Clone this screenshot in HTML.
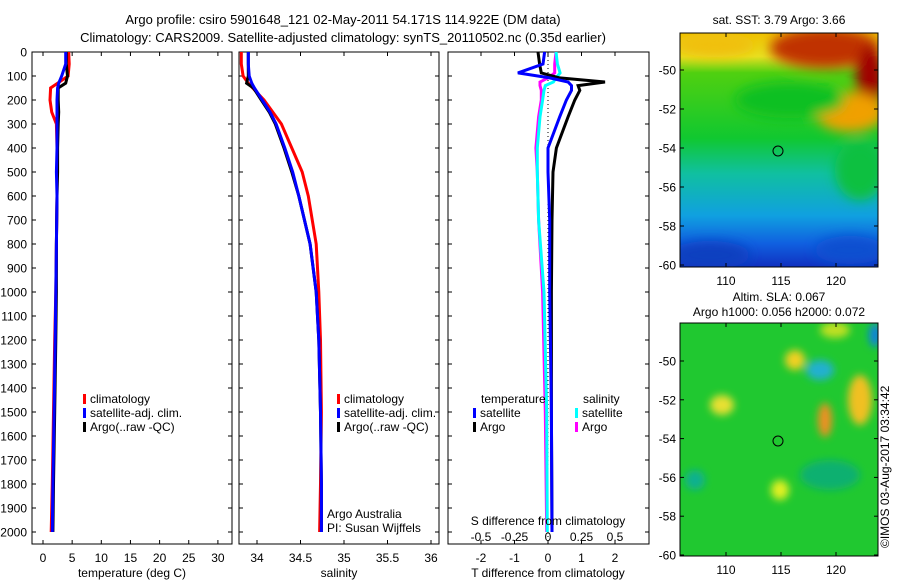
<!DOCTYPE html>
<html><head><meta charset="utf-8"><style>
html,body{margin:0;padding:0;background:#fff;}
svg{display:block;font-family:"Liberation Sans",sans-serif;}
text{font-size:12px;fill:#000;}
</style></head><body>
<svg id="chart" width="900" height="580" viewBox="0 0 900 580" xmlns="http://www.w3.org/2000/svg">
<defs>
<clipPath id="c1"><rect x="680" y="33" width="198" height="234"/></clipPath>
<clipPath id="c2"><rect x="680" y="323" width="198" height="233"/></clipPath>
<filter id="bl" x="-50%" y="-50%" width="200%" height="200%"><feGaussianBlur stdDeviation="6"/></filter>
<filter id="bl2" x="-50%" y="-50%" width="200%" height="200%"><feGaussianBlur stdDeviation="4"/></filter>
<linearGradient id="sstg" x1="0" y1="0" x2="0" y2="1">
<stop offset="0" stop-color="#f0c000"/><stop offset="0.1" stop-color="#e8e020"/><stop offset="0.17" stop-color="#50d010"/>
<stop offset="0.45" stop-color="#10c830"/><stop offset="0.6" stop-color="#10c0a0"/><stop offset="0.78" stop-color="#10a0e0"/>
<stop offset="0.9" stop-color="#1060e0"/><stop offset="1" stop-color="#1030c0"/></linearGradient>
</defs>
<text x="343" y="24" text-anchor="middle" style="font-size:13px">Argo profile: csiro 5901648_121 02-May-2011 54.171S 114.922E (DM data)</text>
<text x="343" y="42" text-anchor="middle" style="font-size:13px">Climatology: CARS2009. Satellite-adjusted climatology: synTS_20110502.nc (0.35d earlier)</text>
<g id="p1"></g>
<g id="p2"></g>
<g id="p3"></g>

<g>
<text x="779" y="24" text-anchor="middle">sat. SST: 3.79 Argo: 3.66</text>
<g clip-path="url(#c1)">
<rect x="680" y="33" width="198" height="234" fill="url(#sstg)"/>
<g filter="url(#bl)">
<ellipse cx="825" cy="48" rx="55" ry="20" fill="#c03000"/>
<ellipse cx="870" cy="80" rx="14" ry="35" fill="#a00000"/>
<ellipse cx="850" cy="112" rx="35" ry="20" fill="#f0a000"/>
<ellipse cx="715" cy="45" rx="40" ry="12" fill="#f0c010"/>
<ellipse cx="790" cy="100" rx="55" ry="18" fill="#10c020"/>
<ellipse cx="860" cy="170" rx="25" ry="30" fill="#10c040"/>
<ellipse cx="710" cy="255" rx="40" ry="14" fill="#1040c0"/>
<ellipse cx="850" cy="250" rx="35" ry="14" fill="#1050d0"/>
</g></g>
<rect x="680" y="33" width="198" height="234" fill="none" stroke="#000"/>
<circle cx="778" cy="151" r="5" fill="none" stroke="#000"/>
</g>
<g>
<text x="779" y="301" text-anchor="middle">Altim. SLA: 0.067</text>
<text x="779" y="316" text-anchor="middle">Argo h1000: 0.056 h2000: 0.072</text>
<g clip-path="url(#c2)">
<rect x="680" y="323" width="198" height="233" fill="#20c830"/>
<g filter="url(#bl2)">
<ellipse cx="795" cy="360" rx="10" ry="10" fill="#f0d020"/>
<ellipse cx="820" cy="370" rx="14" ry="10" fill="#20b0d0"/>
<ellipse cx="860" cy="400" rx="12" ry="25" fill="#f0c020"/>
<ellipse cx="825" cy="420" rx="7" ry="17" fill="#f09020"/>
<ellipse cx="722" cy="405" rx="12" ry="10" fill="#e8e030"/>
<ellipse cx="780" cy="490" rx="9" ry="10" fill="#e0f020"/>
<ellipse cx="695" cy="480" rx="10" ry="10" fill="#10b090"/>
<ellipse cx="830" cy="475" rx="30" ry="15" fill="#10b070"/>
<ellipse cx="875" cy="335" rx="6" ry="12" fill="#1080e0"/>
<ellipse cx="835" cy="330" rx="15" ry="8" fill="#c0e020"/>
</g></g>
<rect x="680" y="323" width="198" height="233" fill="none" stroke="#000"/>
<circle cx="778" cy="441" r="5" fill="none" stroke="#000"/>
</g>
<text transform="translate(889,548) rotate(-90)">©IMOS 03-Aug-2017 03:34:42</text>
</svg>
<script>
// depth levels (m)
const depths   = [0, 50, 100, 130, 150, 200, 250, 300, 400, 500, 600, 800, 1000, 1200, 1500, 1800, 2000];
// temperature (deg C)
const tempClim = [4.4, 4.5, 4.3, 2.5, 1.3, 1.2, 1.5, 2.3, 2.4, 2.4, 2.4, 2.3, 2.2, 2.0, 1.8, 1.6, 1.4];
const tempSat  = [3.9, 3.9, 3.2, 2.7, 2.5, 2.4, 2.4, 2.4, 2.4, 2.3, 2.4, 2.3, 2.2, 2.1, 1.9, 1.7, 1.6];
const tempArgo = [4.0, 4.0, 4.2, 3.9, 2.6, 2.6, 2.7, 2.6, 2.5, 2.5, 2.4, 2.3, 2.3, 2.2, 2.0, 1.8, 1.7];
// salinity
const salClim  = [33.82, 33.82, 33.84, 33.9, 33.95, 34.08, 34.18, 34.28, 34.4, 34.52, 34.59, 34.68, 34.71, 34.73, 34.74, 34.73, 34.72];
const salSat   = [33.9, 33.9, 33.91, 33.94, 33.97, 34.06, 34.15, 34.22, 34.32, 34.41, 34.48, 34.61, 34.68, 34.71, 34.73, 34.74, 34.74];
const salArgo  = [33.9, 33.9, 33.9, 33.88, 33.96, 34.05, 34.14, 34.21, 34.31, 34.4, 34.48, 34.61, 34.68, 34.71, 34.73, 34.74, 34.74];
// differences from climatology
const diffDepths = [0, 50, 87, 108, 125, 140, 160, 200, 270, 400, 500, 700, 1000, 1500, 2000];
const dTSat  = [-0.1, -0.15, -0.9, 0.05, 0.6, 0.7, 0.7, 0.55, 0.35, 0.0, 0.0, 0.05, 0.05, 0.1, 0.12];
const dTArgo = [-0.3, -0.25, -0.2, 0.35, 1.7, 0.9, 0.95, 0.8, 0.6, 0.25, 0.15, 0.12, 0.1, 0.1, 0.12];
const dSSat  = [0.06, 0.07, 0.09, 0.06, 0.04, -0.02, -0.03, -0.04, -0.06, -0.08, -0.08, -0.07, -0.03, -0.01, -0.005];
const dSArgo = [0.06, 0.05, 0.05, 0.0, -0.06, -0.06, -0.05, -0.05, -0.07, -0.09, -0.08, -0.07, -0.04, -0.02, -0.01];
const depthTicks = [0,100,200,300,400,500,600,700,800,900,1000,1100,1200,1300,1400,1500,1600,1700,1800,1900,2000];
const tTicks = [0,5,10,15,20,25,30];
const sTicks = [34,34.5,35,35.5,36];
const dtTicks = [-2,-1,0,1,2];
const dsTicks = [-0.5,-0.25,0,0.25,0.5];
const latTicks = [-50,-52,-54,-56,-58,-60];
const lonTicks = [110,115,120];

const NS = 'http://www.w3.org/2000/svg';
const svg = document.getElementById('chart');
function mk(tag, attrs, parent, txt){const e=document.createElementNS(NS,tag);for(const k in attrs)e.setAttribute(k,attrs[k]);if(txt!==undefined)e.textContent=txt;(parent||svg).appendChild(e);return e;}
const TOP=52, BOT=544;
const yD = d => TOP + d*0.24;
const xT = t => 43 + t*5.83;
const xS = s => 257 + (s-34)*87;
const xDT = t => 548 + t*33.5;
const xDS = s => 548 + s*134;

function frame(g, x0, x1, name){
  const r=mk('rect',{x:x0,y:TOP,width:x1-x0,height:BOT-TOP,fill:'none',stroke:'#000'},g);
  
  
}
function line(g, xs, ds, fx, color, name, w){
  const pts = xs.map((v,i)=>fx(v).toFixed(1)+','+yD(ds[i]).toFixed(1)).join(' ');
  const p=mk('polyline',{points:pts,fill:'none',stroke:color,'stroke-width':w||3,'stroke-linejoin':'miter'},g);
  
  
}
function xticks(g, ticks, fx, y, fmt){
  ticks.forEach(t=>{
    const x=fx(t);
    mk('line',{x1:x,x2:x,y1:BOT,y2:BOT-4,stroke:'#000'},g);
    mk('line',{x1:x,x2:x,y1:TOP,y2:TOP+4,stroke:'#000'},g);
    const tx=mk('text',{x:x,y:y,'text-anchor':'middle'},g,fmt?fmt(t):String(t));
    
    
  });
}
function yticks(g, x0, x1){
  depthTicks.forEach(d=>{
    const y=yD(d);
    mk('line',{x1:x0,x2:x0+4,y1:y,y2:y,stroke:'#000'},g);
    mk('line',{x1:x1,x2:x1-4,y1:y,y2:y,stroke:'#000'},g);
  });
}
function legendItem(g,x,y,color,label){
  mk('rect',{x:x,y:y-9,width:3,height:10,fill:color},g);
  const t=mk('text',{x:x+7,y:y},g,label);
  
  
}

// Panel 1
const g1=document.getElementById('p1');
frame(g1,32,232,'temperature');
yticks(g1,32,232);
depthTicks.forEach(d=>{const t=mk('text',{x:27,y:yD(d)+4.5,'text-anchor':'end'},g1,String(d));
  
  });
xticks(g1,tTicks,xT,562);
line(g1,tempClim,depths,xT,'#f00','temp-climatology-line');
line(g1,tempArgo,depths,xT,'#000','temp-argo-line');
line(g1,tempSat,depths,xT,'#00f','temp-satellite-line');
let a=mk('text',{x:132,y:577,'text-anchor':'middle'},g1,'temperature (deg C)');


legendItem(g1,83,403,'#f00','climatology');
legendItem(g1,83,417,'#00f','satellite-adj. clim.');
legendItem(g1,83,431,'#000','Argo(..raw -QC)');

// Panel 2
const g2=document.getElementById('p2');
frame(g2,239,439,'salinity');
yticks(g2,239,439);
xticks(g2,sTicks,xS,562);
line(g2,salClim,depths,xS,'#f00','sal-climatology-line');
line(g2,salArgo,depths,xS,'#000','sal-argo-line');
line(g2,salSat,depths,xS,'#00f','sal-satellite-line');
a=mk('text',{x:339,y:577,'text-anchor':'middle'},g2,'salinity');


legendItem(g2,337,403,'#f00','climatology');
legendItem(g2,337,417,'#00f','satellite-adj. clim.');
legendItem(g2,337,431,'#000','Argo(..raw -QC)');
a=mk('text',{x:327,y:518},g2,'Argo Australia');


a=mk('text',{x:327,y:532},g2,'PI: Susan Wijffels');



// Panel 3
const g3=document.getElementById('p3');
frame(g3,448,649,'difference');
yticks(g3,448,649);
mk('line',{x1:548,x2:548,y1:TOP,y2:BOT,stroke:'#000','stroke-dasharray':'1,3'},g3);
xticks(g3,dtTicks,xDT,562);
dsTicks.forEach(s=>{const t=mk('text',{x:xDS(s),y:541,'text-anchor':'middle'},g3,String(s));
  
  });
line(g3,dSArgo,diffDepths,xDS,'#f0f','sdiff-argo-line');
line(g3,dSSat,diffDepths,xDS,'#0ff','sdiff-satellite-line');
line(g3,dTArgo,diffDepths,xDT,'#000','tdiff-argo-line');
line(g3,dTSat,diffDepths,xDT,'#00f','tdiff-satellite-line');
a=mk('text',{x:548,y:525,'text-anchor':'middle'},g3,'S difference from climatology');


a=mk('text',{x:548,y:577,'text-anchor':'middle'},g3,'T difference from climatology');


a=mk('text',{x:481,y:403},g3,'temperature');


a=mk('text',{x:583,y:403},g3,'salinity');


legendItem(g3,473,417,'#00f','satellite');
legendItem(g3,473,431,'#000','Argo');
legendItem(g3,575,417,'#0ff','satellite');
legendItem(g3,575,431,'#f0f','Argo');

// Map axes
function mapAxes(x0,x1,y0,y1,yLat50,yLat60,labelY){
  const g=mk('g',{});
  
  
  const py=(yLat60-yLat50)/10;
  latTicks.forEach(l=>{const y=yLat50+(-50-l)*py;
    mk('line',{x1:x0,x2:x0+4,y1:y,y2:y,stroke:'#000'},g);
    mk('line',{x1:x1,x2:x1-4,y1:y,y2:y,stroke:'#000'},g);
    const t=mk('text',{x:x0-4,y:y+4.5,'text-anchor':'end'},g,String(l));
    
    });
  lonTicks.forEach(l=>{const x=726+(l-110)*11;
    mk('line',{x1:x,x2:x,y1:y1,y2:y1-4,stroke:'#000'},g);
    mk('line',{x1:x,x2:x,y1:y0,y2:y0+4,stroke:'#000'},g);
    const t=mk('text',{x:x,y:labelY,'text-anchor':'middle'},g,String(l));
    
    });
}
mapAxes(680,878,33,267,70,265,285);
mapAxes(680,878,323,556,361,555,574);
</script>
</body></html>
